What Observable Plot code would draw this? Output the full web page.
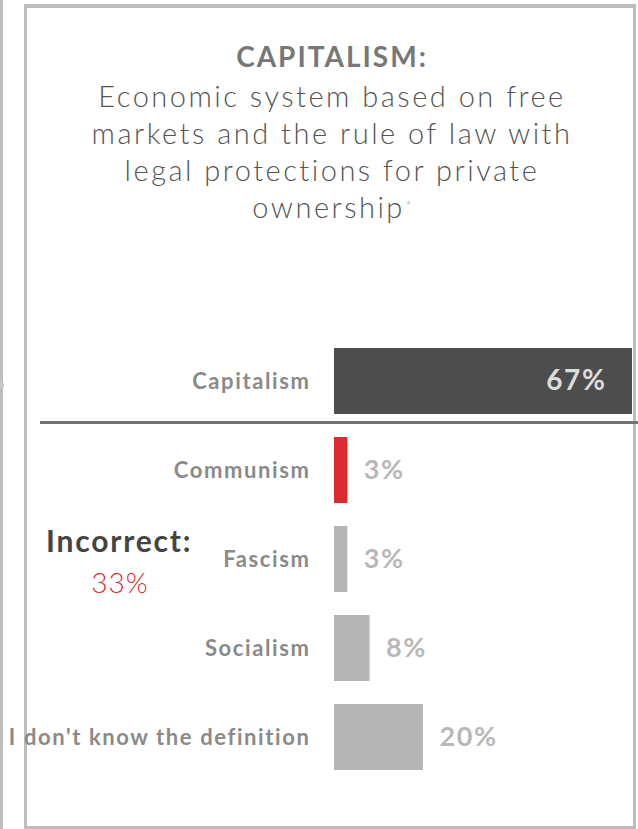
<!DOCTYPE html>
<html>
<head>
<meta charset="utf-8">
<script src="https://cdn.jsdelivr.net/npm/d3@7"></script>
<script src="https://cdn.jsdelivr.net/npm/@observablehq/plot@0.6"></script>
<style>
  html, body { margin: 0; padding: 0; background: #fff; }
  #wrap { position: relative; width: 638px; height: 829px; overflow: hidden; background: #fff; font-family: Lato, "Open Sans", sans-serif; }
  .abs { position: absolute; }
  #outer { left: 0; top: 0; width: 3px; height: 829px; background: #bdbdbd; }
  #dot { left: -4px; top: 381px; width: 8px; height: 8px; border-radius: 50%; background: #c8c8c8; }
  #box { left: 24px; top: 4px; width: 612px; height: 825px; box-sizing: border-box; border: 3px solid #bdbdbd; border-top-width: 4px; }
  #divider { left: 40px; top: 421px; width: 600px; height: 3px; background: #727272; }
  #title { left: 26px; top: 41px; width: 612px; text-align: center; font-size: 28px; line-height: 30px; font-weight: 700; color: #777; letter-spacing: 2px; }
  #subtitle { left: 26px; top: 77px; width: 612px; text-align: center; font-family: "Lato Light", Lato, sans-serif; font-size: 29px; line-height: 37px; font-weight: 300; color: #555; letter-spacing: 2.5px; }
  #subtitle sup { font-family: Lato, sans-serif; font-size: 16px; line-height: 16px; color: #b0b0b0; vertical-align: top; position: relative; top: 10px; letter-spacing: 0; }
  #incorrect { left: 46px; top: 525px; font-size: 30px; line-height: 30px; font-weight: 700; color: #444; white-space: nowrap; letter-spacing: 1.8px; }
  #incorrectShare { left: 60px; top: 568px; width: 120px; text-align: center; font-family: "Lato Light", Lato, sans-serif; font-size: 28px; line-height: 28px; font-weight: 300; color: #dc2a2e; letter-spacing: 1px; }
  #chart { left: 0; top: 0; }
</style>
</head>
<body>
<div id="wrap">
  <div id="outer" class="abs"></div>
  <div id="dot" class="abs"></div>
  <div id="box" class="abs"></div>
  <div id="title" class="abs"></div>
  <div id="subtitle" class="abs"></div>
  <div id="divider" class="abs"></div>
  <div id="incorrect" class="abs"></div>
  <div id="incorrectShare" class="abs"></div>
  <div id="chart" class="abs"></div>
</div>
<script>
const categories = ["Capitalism", "Communism", "Fascism", "Socialism", "I don't know the definition"];
const shares = [67, 3, 3, 8, 20];
const titleText = "CAPITALISM:";
const definitionLines = ["Economic system based on free", "markets and the rule of law with", "legal protections for private", "ownership"];
const footnoteMark = "*";
const incorrectLabel = "Incorrect:";
const incorrectShare = 33;

const correctCategory = categories[0];
const falseHighlight = categories[1];

document.getElementById("title").textContent = titleText;
const sub = document.getElementById("subtitle");
definitionLines.forEach((line, i) => {
  if (i > 0) sub.appendChild(document.createElement("br"));
  sub.appendChild(document.createTextNode(line));
});
const sup = document.createElement("sup");
sup.textContent = footnoteMark;
sub.appendChild(sup);
document.getElementById("incorrect").textContent = incorrectLabel;
document.getElementById("incorrectShare").textContent = incorrectShare + "%";

const data = categories.map((category, i) => ({category, share: shares[i]}));
const fillFor = d => d.category === correctCategory ? "#4d4d4d" : d.category === falseHighlight ? "#dc2a2e" : "#b5b5b5";

const chart = Plot.plot({
  width: 638,
  height: 829,
  margin: 0,
  style: {background: "transparent", fontFamily: "Lato, 'Open Sans', sans-serif", overflow: "visible", letterSpacing: "1.6px"},
  x: {domain: [0, d3.max(shares)], range: [334, 632], axis: null},
  y: {domain: categories, range: [323, 795], padding: 0.2556, axis: null},
  marks: [
    Plot.barX(data, {x: "share", y: "category", fill: fillFor}),
    Plot.text(data, {x: () => 0, y: "category", text: "category", dx: -24, textAnchor: "end", fill: "#8a8a8a", fontSize: 22, fontWeight: 700}),
    Plot.text(data.filter(d => d.category === correctCategory), {x: "share", y: "category", text: d => d.share + "%", dx: -26, textAnchor: "end", fill: "#dcdcdc", fontSize: 28, fontWeight: 700}),
    Plot.text(data.filter(d => d.category !== correctCategory), {x: "share", y: "category", text: d => d.share + "%", dx: 16, textAnchor: "start", fill: "#b8b8b8", fontSize: 27, fontWeight: 700})
  ]
});
document.getElementById("chart").appendChild(chart);
</script>
</body>
</html>
